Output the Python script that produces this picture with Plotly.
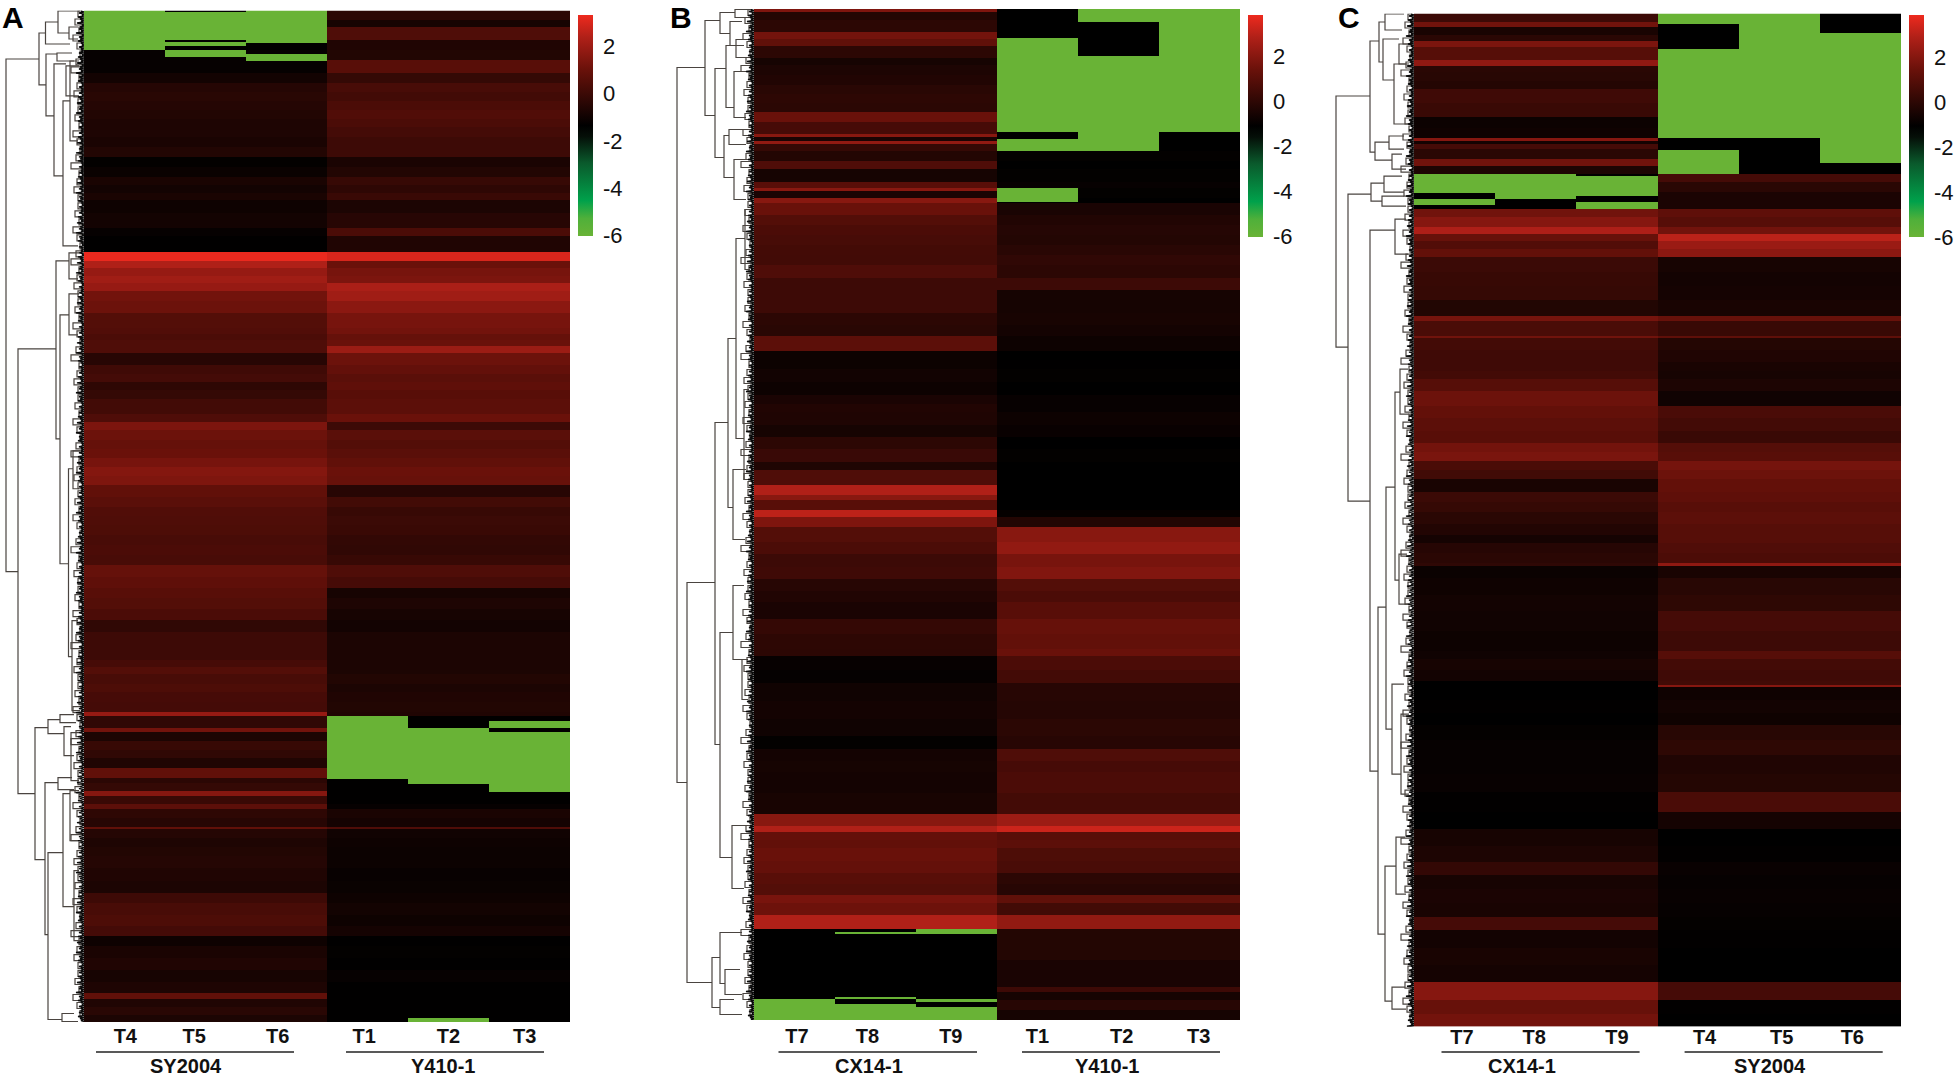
import numpy as np
import plotly.graph_objects as go

W = 1954
H = 1078
GREEN = -6

# panel A, band heights are gene rows from top to bottom
a_rows = [9,7,13,10,10,13,10,9,9,9,
          9,8,10,10,10,10,10,8,8,7,
          13,15,8,16,9,7,8,7,8,10,
          12,15,6,6,6,7,12,9,8,8,
          9,15,8,8,10,9,9,9,9,9,
          12,10,9,9,10,10,10,10,12,11,
          10,11,11,12,18,10,7,7,10,8,
          10,10,4,12,4,9,9,8,10,10,
          5,8,5,8,5,9,9,2,9,9,
          9,12,13,12,10,12,11,10,10,12,
          12,12,11,6,8,8,8]
a_left = [-1.3,-1.3,-1.3,-1.3,-1.2,-1.2,-.9,-.5,-.4,-.5,
          -.55,-.65,-.65,-.75,-.55,-1.25,-1.1,-.75,-.9,-.75,
          -1.0,-.9,-1.2,-1.3,3.3,2.4,1.9,2.1,1.9,1.2,
          1.1,.55,.5,.35,.45,.45,-.45,.1,.2,-.3,
          -.15,.15,.45,1.4,1.1,.95,1.05,1.3,1.55,1.45,
          .85,.7,.5,.45,.4,.3,.35,.3,.95,.8,
          .65,.55,.35,-.25,.05,.05,.25,.55,.3,.4,
          .25,.2,1.9,-.25,1.2,-.7,-.1,-.25,-.6,.85,
          -.35,-.15,1.6,-.05,.75,-.3,-.45,.85,-.5,-.65,
          -.55,-.5,-.6,-.7,.05,.3,.4,.2,-1.0,-.75,
          -.6,-.8,-.65,.85,-.6,-.4,-.7]
a_right = [-.35,-.8,.45,-.6,-.55,.65,-.15,.3,.15,.35,
           .5,.35,.2,.05,.05,-.75,-.55,-.1,-.3,-.05,
           -.7,-.45,.35,-.6,3.0,1.05,1.3,1.4,2.3,2.1,
           1.7,1.3,1.2,.95,1.05,2.0,1.1,.9,.7,.8,
           .65,.75,1.05,.05,.7,.55,.7,.85,1.05,1.0,
           -.45,.15,-.1,.0,-.05,-.2,-.25,-.1,.45,.25,
           -.8,-.65,-.8,-.9,-.7,-.7,-.7,-.7,-.55,-.7,
           -.6,-.55,-.6,-1.3,-1.3,-1.3,-1.3,-1.3,-1.3,-1.3,
           -1.3,-1.3,-1.3,-1.3,-1.2,-.75,-.85,.45,-.95,-1.0,
           -1.05,-1.05,-1.15,-1.1,-1.0,-.9,-1.0,-.85,-1.3,-1.25,
           -1.3,-1.2,-1.3,-1.3,-1.3,-1.3,-1.3]
a_green = {0: [(0,39)],
           1: [(1,29),(31,35),(39,46)],
           2: [(0,32),(43,50)],
           3: [(705,768)],
           4: [(717,773),(1007,1012)],
           5: [(710,717),(721,781)]}
a_brackets = [(78,48,561,45,66),(45,22,74,38.5,38),(38.5,11,33,26,14),(26,0,22,4,15),(15,16,28,6,6),
              (38,43,105,27,30),(27,42,50,12,10),(30,53,165,18,21),(18,55,85,5,5),(21,90,235,14,6),(14,50,130,5,6),
              (66,338,783,28,49),(28,250,428,15,24),(15,242,268,5,6),(24,304,553,15,15.5),(15,283,324,5,6),
              (15.5,458,646,11,12),(11,440,478,4,5),(12,610,700,6,4),(49,717,849,36,39),(36,709,723,24,20),
              (24,704,712,10,8),(20,716,745,13,10),(13,722,770,5,5),(39,772,924,26,36),(26,767,779,12,10),
              (36,842,1009,21,22),(21,783,896,14,10),(14,780,830,5,5),(10,860,930,5,3),(22,1003,1011,10,6)]

# panel B
b_rows = [3,8,12,7,7,12,7,10,10,9,
          9,9,10,12,3,4,3,7,10,8,
          13,6,3,7,5,12,10,10,10,10,
          10,13,12,10,13,12,11,15,9,
          9,13,13,9,8,13,12,12,13,8,
          15,10,5,10,7,10,15,12,13,12,
          12,11,17,15,15,7,14,13,18,18,
          17,13,12,11,21,21,12,6,8,8,
          13,12,11,11,8,12,14,31,27,5,
          8,10,10]
b_left = [1.83,-.24,-.04,1.62,1.2,-.04,-.55,-.4,-.3,-.1,
          .0,-.05,1.41,.59,2.04,-.45,2.24,.17,-.24,.79,
          -.55,1.0,2.04,-.45,2.04,1.41,.9,.7,.6,.5,
          .48,.79,.38,.38,.38,-.04,-.1,1.1,-.76,
          -.8,-.66,-.76,-.45,-.3,-.35,-.55,-.04,.28,-.35,
          .79,2.86,2.04,1.0,3.07,1.83,.9,.7,.35,.42,
          -.15,-.3,-.45,.15,.0,-.04,-.9,-.95,-.7,-.6,
          -.7,-1.0,-.6,-.55,-.6,-.5,2.04,2.86,1.3,1.25,
          1.4,1.3,1.0,.9,1.72,1.5,2.86,-1.07,-1.07,-1.07,
          -1.07,-1.07,-1.07]
b_right = [-1.07,-1.07,-1.07,-1.07,-1.07,-1.07,-1.07,-1.07,-1.07,-1.07,
           -1.07,-1.07,-1.07,-1.07,-1.07,-1.07,-1.07,-1.07,-1.0,-1.07,
           -1.0,-.9,-1.0,-1.0,-1.07,-.45,-.3,-.2,-.24,-.1,
           .07,-.04,.38,-.55,-.55,-.5,-.6,-.76,-1.07,
           -1.05,-1.0,-1.07,-.9,-.9,-.76,-.86,-1.07,-1.0,-1.07,
           -1.07,-1.07,-1.07,-1.07,-.96,-.24,2.04,2.24,1.72,1.9,
           .9,.7,1.0,1.35,1.25,1.4,.7,.5,-.14,-.2,
           -.05,-.14,.79,.59,.7,.5,2.45,3.3,1.0,1.1,
           .75,.65,-.04,-.15,1.2,.48,2.24,-.24,-.45,.38,
           -.55,-.14,-.55]
b_green = {0: [(990,1011)],
           1: [(923,925),(988,990),(995,1011)],
           2: [(920,925),(990,993),(998,1011)],
           3: [(29,123),(130,142),(179,193)],
           4: [(0,13),(47,142)],
           5: [(0,123)]}
b_brackets = [(77,58,773,49,67),(49,11,106,34,39),(34,3,24,19,24),(19,0,8,6,7),(24,12,36,12,10),(39,59,148,28,30),
              (28,36,98,18,20),(18,30,48,6,6),(20,62,108,6,8),(30,126,168,25,20),(25,120,135,10,8),(20,150,190,8,8),
              (67,573,973,39,42),(39,413,735,26,34),(26,329,498,18,21),(18,229,429,9,10),(9,200,260,5,4),(10,380,470,5,4),
              (21,460,530,8,9),(34,623,848,21,22),(21,576,650,10,12),(12,650,690,6,6),(22,816,879,8,10),(42,948,998,34,34),
              (34,923,974,12,29),(29,960,985,14,12),(34,990,1005,20,12)]

# panel C
c_rows = [8,5,8,6,6,13,6,6,9,8,
          14,14,11,10,3,3,5,10,7,8,
          8,10,17,8,10,7,7,8,8,15,
          14,14,16,5,15,2,12,12,9,8,
          12,15,12,13,12,9,9,9,9,13,
          10,10,12,11,8,10,10,3,12,17,
          16,20,20,8,11,11,4,2,13,13,
          12,15,15,19,18,20,17,17,16,13,
          14,14,14,13,18,17,17,18,14,13]
c_left = [.38,1.62,-.45,-.04,1.83,1.0,2.24,-.04,-.1,-.2,
          .45,.3,-.76,-.7,2.04,-.55,.59,-.04,1.62,-.35,
          -1.05,-1.05,-1.05,1.62,2.04,2.86,1.4,.9,1.3,.35,
          .25,.2,-.24,1.72,.7,1.62,.55,.45,.45,.55,
          1.0,1.5,1.3,1.15,1.05,1.65,1.8,.7,.5,-.45,
          .35,.2,-.05,-.25,-.55,-.14,-.05,.07,-.8,-.7,
          -.6,-.65,-.75,-.66,-.5,-.6,-1.05,-1.05,-1.05,-1.0,
          -1.05,-.95,-.9,-.9,-.85,-1.0,-1.05,-.5,-.35,.17,
          -.5,-.4,-.45,.59,-.6,-.45,-.55,2.04,1.4,1.65]
c_right = [-1.05,-1.05,-1.05,-1.05,-1.05,-1.05,-1.05,-1.05,-1.05,-1.05,
           -1.05,-1.05,-1.05,-1.05,-1.05,-1.05,-1.05,-1.05,-1.05,-1.05,
           .6,-.04,-.4,1.2,1.0,1.62,3.07,2.45,2.15,-.5,
           -.6,-.55,-.45,1.4,.28,1.2,-.2,-.3,-.45,-.5,
           -.35,-.66,.7,.55,.3,.95,1.05,1.7,1.5,1.3,
           1.2,1.05,1.15,1.0,1.0,.85,.75,2.24,-.45,-.1,
           .05,.6,.4,1.0,.55,.45,.5,2.04,-.7,-.6,
           -.7,-.1,.05,-.3,-.2,.7,-.55,-1.05,-1.0,-.84,
           -.9,-.85,-.9,-.95,-1.0,-1.05,-1.05,.6,-1.0,-1.05]
c_green = {0: [(160,179),(185,191)],
           1: [(160,185)],
           2: [(162,182),(188,195)],
           3: [(0,10),(35,124),(136,160)],
           4: [(0,124)],
           5: [(19,149)]}
c_brackets = [(78,82,333,44,66),(66,180,487,43,44),(44,27,138,35,39),(35,8,48,29,31),(29,0,16,10,12),(31,25,66,15,20),
              (20,50,110,8,6),(15,30,50,5,5),(39,128,146,25,22),(25,122,135,10,10),(22,140,155,12,8),(43,169,187,30,32),
              (30,162,178,12,10),(32,182,192,10,8),(44,216,757,19,36),(19,205,240,8,6),(36,593,920,28,29),(28,473,715,19,22),
              (19,378,566,14,15),(14,355,400,6,5),(15,540,590,7,6),(22,670,760,10,13),(13,700,780,5,5),(29,852,987,18,22),
              (18,823,880,9,8),(22,973,995,9,8)]

fringe_widths = [3,5,2,6,4,3,7,2,4,5,3,8,2,5,4,6,3,2,5,3]
twig_heights = [6,9,5,11,7,4,8,13,5,7,10,6]
colorbar_ticks = [-6,-4,-2,0,2]
colorbar_text = ["-6","-4","-2","0","2"]
colors = [[0,"#69b336"],[0.08,"#4fb03a"],[0.16,"#00a14b"],[0.33,"#0a5a2c"],[0.45,"#050f08"],[0.5,"#000000"],[0.75,"#68110a"],[0.9,"#b02018"],[1,"#ee2a1e"]]

panels = [
    dict(rows=a_rows, left=a_left, right=a_right, green=a_green, brackets=a_brackets, zmax=3.35, letter="A",
         x0=84, x1=570, y0=10.5, y1=1022, den0=0, lx=2, bar=(578,14.6,10.7,220.5),
         ticks=["T4","T5","T6","T1","T2","T3"], tickpos=[0.01,0.86,1.89,2.96,4.0,4.94],
         lines=[(96,294),(346,544)], groups=[("SY2004",186),("Y410-1",443)]),
    dict(rows=b_rows, left=b_left, right=b_right, green=b_green, brackets=b_brackets, zmax=3.85, letter="B",
         x0=754, x1=1240, y0=9, y1=1020, den0=660, lx=670, bar=(1248,14.5,9,221.5),
         ticks=["T7","T8","T9","T1","T2","T3"], tickpos=[0.03,0.9,1.93,3.0,4.04,4.99],
         lines=[(778.5,977),(1022,1220)], groups=[("CX14-1",869),("Y410-1",1107)]),
    dict(rows=c_rows, left=c_left, right=c_right, green=c_green, brackets=c_brackets, zmax=3.9, letter="C",
         x0=1414, x1=1901, y0=13.5, y1=1026.7, den0=1320, lx=1338, bar=(1908.6,15,13.5,221.5),
         ticks=["T7","T8","T9","T4","T5","T6"], tickpos=[0.09,0.98,2.0,3.08,4.03,4.9],
         lines=[(1441.5,1639.6),(1684.6,1882.7)], groups=[("CX14-1",1521.5),("SY2004",1769.6)]),
]

fig = go.Figure()
shapes = []
annotations = []
layout = {}

for i, p in enumerate(panels):
    # one row of the matrix per gene row
    left = np.repeat(p["left"], p["rows"])
    right = np.repeat(p["right"], p["rows"])
    z = np.column_stack([left, left, left, right, right, right]).astype(float)
    n = len(z)
    for col, spans in p["green"].items():
        for a, b in spans:
            z[a:b, col] = GREEN

    hx = "x" + str(2*i+1)
    hy = "y" + str(2*i+1)
    dx = "x" + str(2*i+2)
    dy = "y" + str(2*i+2)
    bx, by, bh, blen = p["bar"]
    fig.add_trace(go.Heatmap(z=z, x=list(range(6)), y=list(range(n)), xaxis=hx, yaxis=hy,
                             colorscale=colors, zmin=GREEN, zmax=p["zmax"], hoverinfo="skip",
                             colorbar=dict(x=bx/W, xanchor="left", y=1-by/H, yanchor="top", len=blen, lenmode="pixels",
                                           thickness=14.5, xpad=0, ypad=0, outlinewidth=0, tickmode="array",
                                           tickvals=colorbar_ticks, ticktext=colorbar_text,
                                           ticks="outside", ticklen=6, tickcolor="rgba(0,0,0,0)",
                                           tickfont=dict(family="Liberation Sans", size=22, color="#111111"))))

    # tree brackets
    xs = []
    ys = []
    for d, top, bot, dtop, dbot in p["brackets"]:
        xs += [dtop, d, d, dbot, None]
        ys += [top, top, bot, bot, None]
    # small branches close to the matrix
    for j, row in enumerate(range(0, n-6, 8)):
        h = twig_heights[j % len(twig_heights)]
        xs += [2, h, h, 2, None]
        ys += [row, row, row+6, row+6, None]
    fig.add_trace(go.Scatter(x=xs, y=ys, mode="lines", xaxis=dx, yaxis=dy, hoverinfo="skip", showlegend=False,
                             line=dict(color="#4a4440", width=1.2)))
    # dense leaf branches next to the matrix
    fx = []
    fy = []
    for j, row in enumerate(range(0, n, 2)):
        fx += [fringe_widths[j % len(fringe_widths)], 0]
        fy += [row, row+1]
    fig.add_trace(go.Scatter(x=fx, y=fy, mode="lines", xaxis=dx, yaxis=dy, hoverinfo="skip", showlegend=False,
                             line=dict(color="#0a0a0a", width=1.4)))

    key = str(2*i+1)
    layout["xaxis"+key] = dict(domain=[p["x0"]/W, p["x1"]/W], range=[-0.5,5.5], anchor="y"+key, showgrid=False, zeroline=False,
                               showline=False, tickmode="array", tickvals=p["tickpos"], ticktext=p["ticks"], ticks="", ticklabelstandoff=int(1022-p["y1"]),
                               tickfont=dict(family="Liberation Sans", size=20, color="#111111", weight=700))
    layout["yaxis"+key] = dict(domain=[1-p["y1"]/H, 1-p["y0"]/H], range=[n-0.5,-0.5], anchor="x"+key, visible=False)
    key2 = str(2*i+2)
    layout["xaxis"+key2] = dict(domain=[p["den0"]/W, p["x0"]/W], range=[p["x0"]-p["den0"],0], anchor="y"+key2, visible=False)
    layout["yaxis"+key2] = dict(domain=[1-p["y1"]/H, 1-p["y0"]/H], range=[n-0.5,-0.5], anchor="x"+key2, visible=False)

    for a, b in p["lines"]:
        shapes.append(dict(type="line", xref="paper", yref="paper", x0=a/W, x1=b/W, y0=1-1052/H, y1=1-1052/H,
                           line=dict(color="#222222", width=1.3)))
    for name, gx in p["groups"]:
        annotations.append(dict(text=name, xref="paper", yref="paper", x=gx/W, y=1-1065.5/H, xanchor="center", yanchor="middle",
                                showarrow=False, font=dict(family="Liberation Sans", size=20, color="#111111", weight=700)))
    annotations.append(dict(text=p["letter"], xref="paper", yref="paper", x=p["lx"]/W, y=1-18/H, xanchor="left", yanchor="middle",
                            showarrow=False, xshift=-2, font=dict(family="Liberation Sans", size=30, color="#000000", weight=700)))

fig.update_layout(width=W, height=H, margin=dict(l=0,r=0,t=0,b=0), paper_bgcolor="white", plot_bgcolor="white",
                  showlegend=False, shapes=shapes, annotations=annotations, **layout)
# the page body has a default margin that would push the figure off the window
fig.write_html("out.html", config={"displayModeBar": False}, post_script="document.body.style.margin='0';")
